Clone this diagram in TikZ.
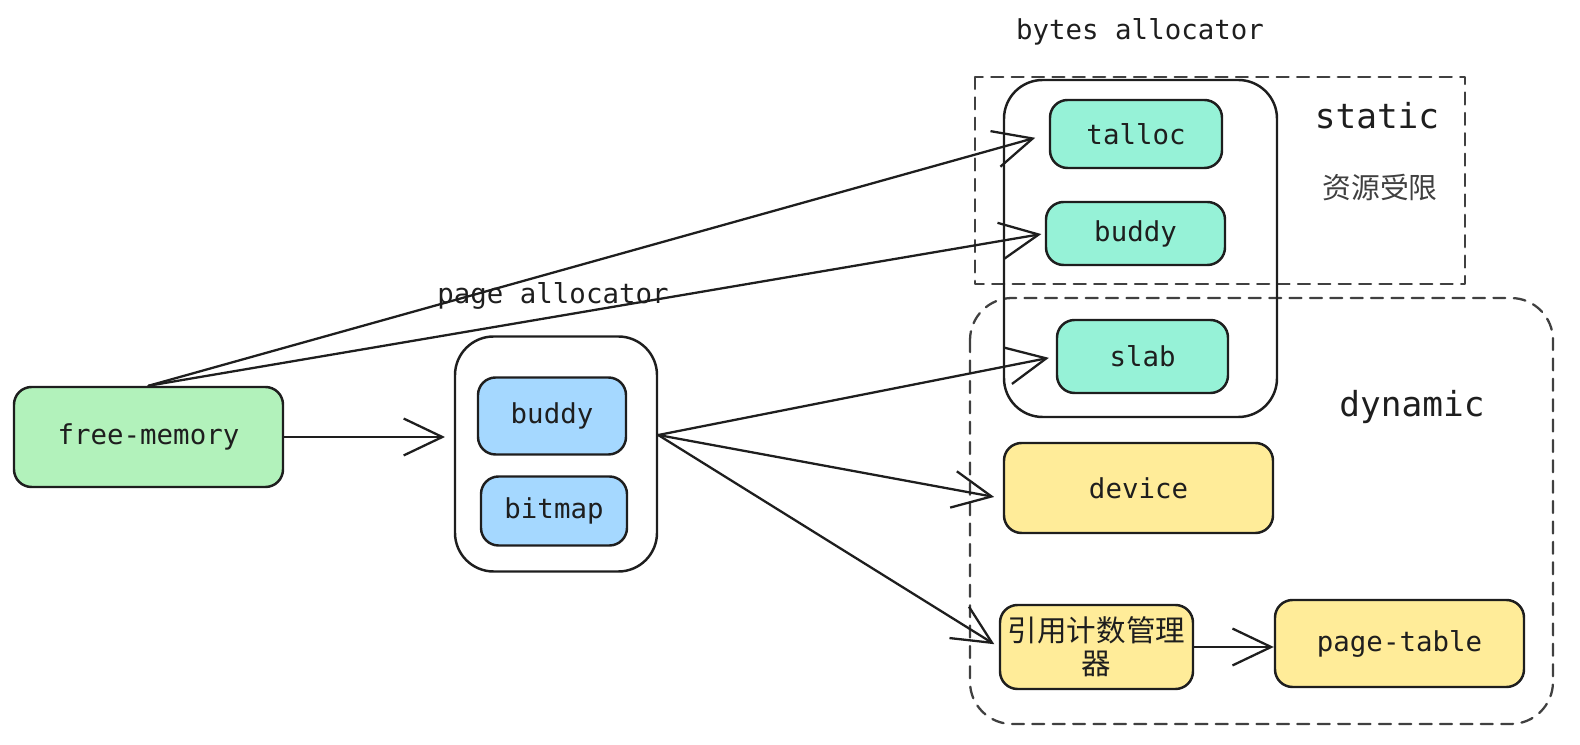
\documentclass[tikz,border=0pt]{standalone}
\usepackage{fontspec}
\setmonofont{DejaVu Sans Mono}
\newfontfamily\cjk{Noto Sans CJK SC}
\usepackage{tikz}
\usetikzlibrary{arrows.meta}
\definecolor{memgreen}{HTML}{B2F2BB}
\definecolor{pageblue}{HTML}{A5D8FF}
\definecolor{byteteal}{HTML}{96F2D7}
\definecolor{dynyellow}{HTML}{FFEC99}
\definecolor{ink}{HTML}{1E1E1E}
\tikzset{
  box/.style={draw=ink,line width=0.7pt,rounded corners=5pt,inner sep=0pt,
    text=ink,font=\ttfamily\fontsize{7.8}{9}\selectfont},
  grp/.style={draw=ink,line width=0.7pt,rounded corners=11pt,inner sep=0pt},
  zone/.style={draw=ink!85,line width=0.65pt,dash pattern=on 3.4pt off 2.4pt},
  lbl/.style={text=ink,font=\ttfamily\fontsize{7.8}{9}\selectfont},
  biglbl/.style={text=ink,font=\ttfamily\fontsize{9.8}{11}\selectfont},
  link/.style={->,draw=ink,line width=0.65pt}
}
\begin{document}
\begin{tikzpicture}[line cap=round,line join=round,>={Straight Barb[length=11pt,width=10.5pt]},x=0.1mm,y=-0.1mm]
\useasboundingbox (0,0) rectangle (1580,745);
% zones
\draw[zone] (975,77) rectangle (1465,284);
\draw[zone,rounded corners=12pt] (970,298) rectangle (1553,724);
\node[biglbl] (stat) at (1377,116) {static};
\node[text=ink!85,font=\cjk\fontsize{8.2}{9}\selectfont] (lim) at (1380,188) {资源受限};
\node[biglbl] (dyn) at (1412,407) {dynamic};
% page allocator
\node[grp,minimum width=2.02cm,minimum height=2.35cm] (pg) at (556,454) {};
\node[lbl] (pglbl) at (553,296) {page allocator};
\node[box,fill=pageblue,minimum width=1.48cm,minimum height=0.77cm] (pbud) at (552,416) {buddy};
\node[box,fill=pageblue,minimum width=1.46cm,minimum height=0.69cm] (bmap) at (554,511) {bitmap};
% bytes allocator
\node[grp,minimum width=2.73cm,minimum height=3.37cm] (ba) at (1140.5,248.5) {};
\node[lbl] (balbl) at (1140,32) {bytes allocator};
\node[box,fill=byteteal,minimum width=1.72cm,minimum height=0.68cm] (tal) at (1136,134) {talloc};
\node[box,fill=byteteal,minimum width=1.79cm,minimum height=0.63cm] (bbud) at (1135.5,233.5) {buddy};
\node[box,fill=byteteal,minimum width=1.71cm,minimum height=0.73cm] (slab) at (1142.5,356.5) {slab};
% others
\node[box,fill=memgreen,minimum width=2.69cm,minimum height=1cm] (free) at (148.5,437) {free-memory};
\node[box,fill=dynyellow,minimum width=2.69cm,minimum height=0.9cm] (dev) at (1138.5,488) {device};
\node[box,fill=dynyellow,minimum width=1.93cm,minimum height=0.84cm,align=center,
  font=\cjk\fontsize{8.4}{9.4}\selectfont] (rc) at (1096.5,647) {引用计数管理\\器};
\node[box,fill=dynyellow,minimum width=2.49cm,minimum height=0.87cm] (pt) at (1399.5,643.5) {page-table};
% arrows
\draw[link,shorten >=4pt] (free.north) -- (tal.west);
\draw[link,shorten >=1pt] (free.north) -- (bbud.west);
\draw[link,shorten >=2.5pt] (free.east) -- (free.east -| pg.west);
\draw[link,shorten >=2pt] ([yshift=5.4pt]pg.east) -- (slab.west);
\draw[link,shorten >=2.5pt] ([yshift=5.4pt]pg.east) -- ([yshift=-3pt]dev.west);
\draw[link,shorten >=1.5pt] ([yshift=5.4pt]pg.east) -- (rc.west);
\draw[link] (rc.east) -- (rc.east -| pt.west);
\end{tikzpicture}
\end{document}
